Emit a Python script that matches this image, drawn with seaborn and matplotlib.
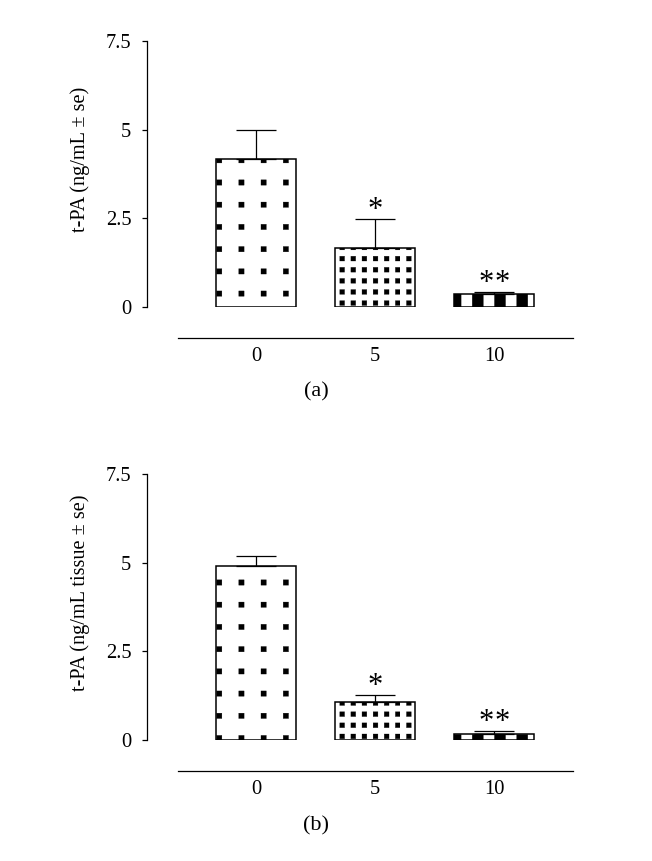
import numpy as np
import pandas as pd
import matplotlib
matplotlib.use("Agg")
import matplotlib.pyplot as plt
import matplotlib.hatch as mhatch
from matplotlib.path import Path
import seaborn as sns

# ---------------- data ----------------
doses = ["0", "5", "10"]
plasma_mean = [4.16, 1.66, 0.38]
plasma_se = [0.83, 0.82, 0.05]
tissue_mean = [4.90, 1.07, 0.17]
tissue_se = [0.29, 0.20, 0.08]
signif = ["", "*", "**"]
ytick_vals = [0, 2.5, 5, 7.5]
ytick_labels = ["0", "2.5", "5", "7.5"]
ylabel_a = "t-PA (ng/mL ± se)"
ylabel_b = "t-PA (ng/mL tissue ± se)"
panel_labels = ["(a)", "(b)"]
bar_hatches = [".", "..", "O"]


# ------------- custom square-dot hatch -------------
class SquareGrid(mhatch.HatchPatternBase):
    def __init__(self, hatch, density):
        n_dot = hatch.count('.')
        n_big = hatch.count('O')
        if n_big:
            self.rows, self.fx, self.fy, self.off = 9, 0.5, 0.9, (0.0, 0.0)
        elif n_dot == 1:
            self.rows, self.fx, self.fy, self.off = 9, 0.24, 0.24, (0.0405, 0.032)
        elif n_dot >= 2:
            self.rows, self.fx, self.fy, self.off = 18, 0.43, 0.43, (0.0165, 0.0125)
        else:
            self.rows, self.fx, self.fy, self.off = 0, 0, 0, (0.0, 0.0)
        self.num_vertices = 5 * self.rows ** 2

    def set_vertices_and_codes(self, vertices, codes):
        n = self.rows
        hx = self.fx / (2 * n)
        hy = self.fy / (2 * n)
        c = (np.arange(n) + 0.5) / n
        cx, cy = np.meshgrid(c + self.off[0], c + self.off[1])
        centers = np.stack([cx.ravel(), cy.ravel()], 1)
        sq = np.array([[-hx, -hy], [hx, -hy], [hx, hy], [-hx, hy], [-hx, -hy]])
        v = (centers[:, None, :] + sq[None, :, :]).reshape(-1, 2)
        vertices[:] = v
        cd = np.array([Path.MOVETO, Path.LINETO, Path.LINETO, Path.LINETO,
                       Path.CLOSEPOLY], dtype=Path.code_type)
        codes[:] = np.tile(cd, n * n)


mhatch._hatch_types[:] = [t for t in mhatch._hatch_types
                          if t.__name__ not in ("SmallFilledCircles", "LargeCircles")]
mhatch._hatch_types.append(SquareGrid)

# ---------------- style ----------------
sns.set_theme(style="white")
plt.rcParams['font.family'] = ['Liberation Serif', 'DejaVu Serif']
plt.rcParams['hatch.linewidth'] = 0.1
plt.rcParams['hatch.color'] = 'black'

DPI = 200
fig = plt.figure(figsize=(652 / DPI, 861 / DPI), dpi=DPI)

W, H = 652, 861
ax_left = 178 / W
ax_width = (573 - 178) / W
ax_height = (307 - 41) / H
ax_a = fig.add_axes([ax_left, 1 - 307 / H, ax_width, ax_height])
ax_b = fig.add_axes([ax_left, 1 - 740 / H, ax_width, ax_height])

panels = [
    (ax_a, plasma_mean, plasma_se, ylabel_a),
    (ax_b, tissue_mean, tissue_se, ylabel_b),
]

for ax, means, ses, ylab in panels:
    df = pd.DataFrame({"dose": doses, "tpa": means})
    sns.barplot(data=df, x="dose", y="tpa", order=doses, ax=ax,
                color="white", saturation=1, edgecolor="black",
                linewidth=0.55, width=0.672, errorbar=None)
    patches = list(ax.patches)
    centers = []
    for p, h in zip(patches, bar_hatches):
        p.set_hatch(h)
        p.set_facecolor("white")
        p.set_edgecolor("black")
        centers.append(p.get_x() + p.get_width() / 2)
    ax.errorbar(centers, means, yerr=[np.zeros(len(means)), ses],
                fmt="none", ecolor="black", elinewidth=0.45,
                capsize=7.2, capthick=0.45, zorder=3)
    for xc, m, s, lab in zip(centers, means, ses, signif):
        n = len(lab)
        for i, ch in enumerate(lab):
            dx = (i - (n - 1) / 2) * 6.0
            ax.annotate(ch, xy=(xc, m + s), xytext=(dx, 0.3),
                        textcoords="offset points", ha="center",
                        va="baseline", fontsize=11, color="black")
    ax.set_xlim(-0.655, 2.664)
    ax.set_ylim(0, 7.5)
    ax.set_yticks(ytick_vals)
    ax.set_yticklabels(ytick_labels)
    ax.set_xlabel("")
    ax.set_ylabel(ylab, fontsize=7.3, color="black")
    ax.yaxis.set_label_coords(-0.223, 0.555)
    ax.tick_params(axis="y", which="both", left=True, length=1.8, width=0.45,
                   pad=4, labelsize=7.4, colors="black", direction="out")
    ax.tick_params(axis="x", which="both", bottom=False, length=0, pad=3.5,
                   labelsize=7.4, colors="black")
    sns.despine(ax=ax, offset=11)
    for sp in ("left", "bottom"):
        ax.spines[sp].set_linewidth(0.45)
        ax.spines[sp].set_color("black")
    ax.set_facecolor("white")

fig.text(316 / W, 1 - 392 / H, panel_labels[0], ha="center", va="center",
         fontsize=8, color="black")
fig.text(316 / W, 1 - 826 / H, panel_labels[1], ha="center", va="center",
         fontsize=8, color="black")

fig.savefig("out.png", dpi=DPI, facecolor="white")
